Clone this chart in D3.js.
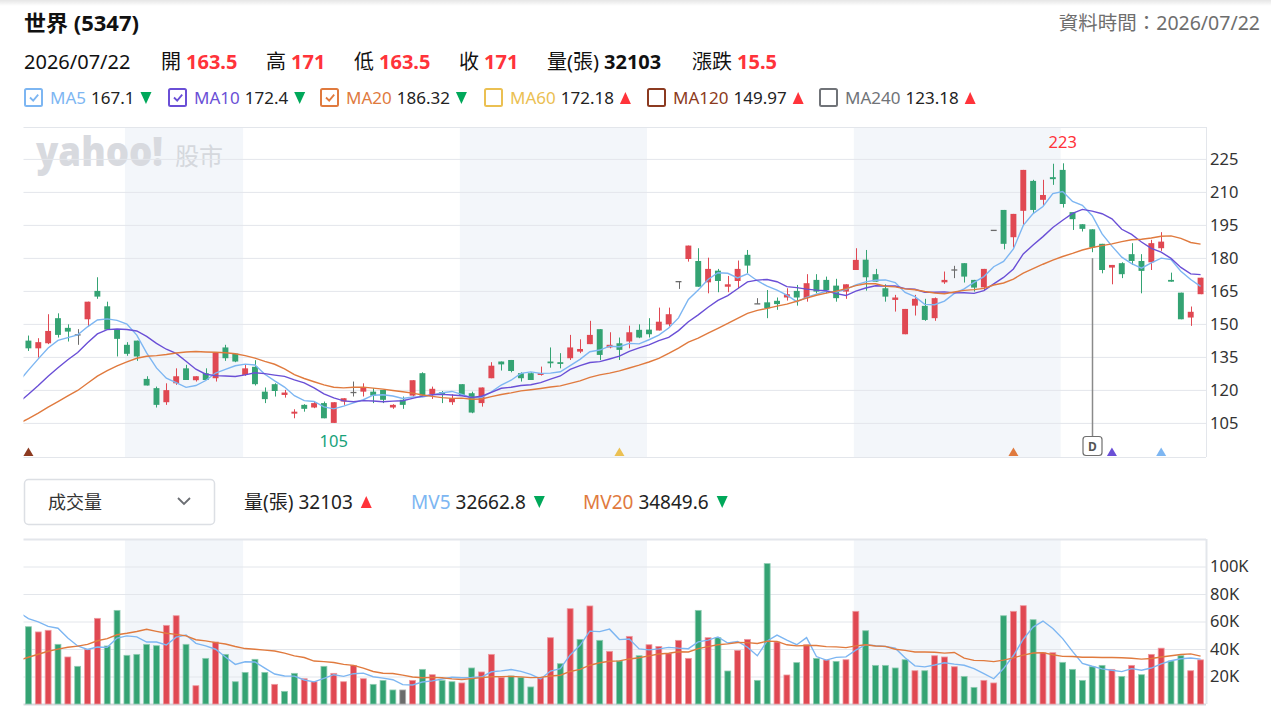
<!DOCTYPE html>
<html>
<head>
<meta charset="utf-8">
<script src="https://cdn.jsdelivr.net/npm/d3@7"></script>
<style>
  body { margin: 0; background: #fff; }
  text { font-family: "Noto Sans", "Noto Sans CJK TC", sans-serif; }
</style>
</head>
<body>
<svg id="chart" width="1271" height="711"></svg>
<script>
// ---- data ----
const stockName = "世界 (5347)";
const lastDate = "2026/07/22";

const opens = [142.4,138.9,141.2,152.6,148.2,145.0,152.1,165.0,158.0,147.4,140.5,142.4,125.0,120.8,114.4,123.0,129.8,124.4,127.6,125.3,
  139.3,136.5,126.8,130.5,119.2,122.6,117.7,109.2,113.2,112.0,114.0,105.0,114.7,118.8,119.2,119.2,120.0,112.0,115.5,117.4,
  127.6,118.0,119.0,114.4,122.6,118.5,114.0,125.3,132.9,133.6,127.6,127.6,126.8,132.9,132.6,134.4,137.4,140.8,147.6,139.3,
  141.2,142.0,147.3,147.4,147.0,149.8,169.2,179.5,178.6,168.9,174.2,166.9,169.5,181.4,159.1,159.8,160.5,162.0,165.0,161.7,
  170.0,170.0,167.4,164.7,174.5,179.2,172.6,166.2,160.9,145.3,158.3,158.2,152.6,168.9,174.5,177.6,170.0,166.6,192.5,201.8,
  189.4,201.4,215.0,206.4,216.7,220.0,200.8,195.3,193.0,186.4,175.6,177.6,181.7,178.6,178.0,184.4,170.0,164.2,152.9,163.5];
const highs = [144.7,143.5,154.4,154.8,149.8,147.6,160.1,171.2,160.1,147.4,141.7,142.4,126.2,121.5,123.0,129.8,131.4,126.2,129.8,136.9,
  140.5,136.5,131.7,133.5,121.1,123.0,120.0,111.2,113.5,114.7,114.7,114.4,116.2,123.8,123.0,120.8,120.0,113.5,117.0,124.4,
  128.0,121.5,119.5,118.0,122.6,119.2,121.1,132.6,132.9,133.6,128.0,128.0,130.6,139.3,136.7,145.0,143.0,151.4,147.6,146.2,
  143.8,149.2,149.8,152.6,157.4,157.4,169.2,185.6,184.4,180.1,175.0,171.8,178.8,183.6,161.7,165.4,162.0,166.2,167.7,172.6,
  172.6,171.5,170.5,168.0,184.4,183.6,175.0,168.0,163.2,156.8,163.2,161.4,162.0,173.8,176.4,177.6,170.0,175.0,192.5,201.8,
  200.0,220.0,215.5,215.5,222.8,223.0,200.8,195.3,193.0,186.4,176.8,178.0,186.7,181.7,188.2,191.7,173.3,164.2,157.9,171.0];
const lows = [137.7,134.7,140.8,143.8,142.0,140.5,148.8,161.4,147.4,135.2,135.5,133.2,122.0,112.0,113.2,122.3,124.5,123.8,124.5,123.8,
  133.2,132.6,126.4,122.0,114.0,117.0,116.5,107.1,110.1,111.7,107.1,105.0,113.2,117.0,117.0,114.0,114.0,111.4,111.4,117.0,
  117.0,115.9,114.0,113.2,117.4,109.4,112.4,125.3,128.8,128.0,123.8,124.5,126.5,130.1,129.8,133.6,136.7,140.8,133.6,138.9,
  133.6,138.9,143.5,143.8,147.0,148.8,165.9,178.3,166.9,163.9,164.4,164.4,166.2,173.0,159.1,152.6,156.4,160.6,158.3,160.1,
  163.9,163.9,160.1,161.4,174.5,165.1,169.2,160.1,155.6,145.3,153.8,151.4,151.4,168.2,170.8,168.8,164.7,165.1,192.5,183.9,
  184.7,195.0,200.3,203.8,213.2,202.9,192.7,192.0,182.6,173.0,168.0,170.8,176.8,163.9,174.5,183.2,169.2,152.1,149.1,163.5];
const closes = [138.9,141.7,146.8,145.0,146.5,145.0,160.1,162.4,147.4,143.2,136.4,135.2,122.0,113.2,119.9,126.2,124.5,126.2,124.5,136.9,
  134.4,132.9,129.8,122.6,115.8,119.5,118.8,110.1,111.4,114.0,107.1,114.4,116.2,118.8,121.1,117.4,115.5,113.2,113.2,124.4,
  117.4,120.5,118.0,116.2,117.7,109.7,121.1,131.0,131.6,128.6,125.3,124.5,127.6,132.1,131.8,139.3,138.6,145.0,135.9,140.5,
  138.2,146.2,143.8,145.3,151.0,154.4,169.2,185.6,166.9,175.0,169.5,168.0,175.0,176.5,159.1,157.1,159.0,163.5,162.0,168.5,
  164.7,165.4,161.7,168.0,179.1,171.2,169.2,162.4,162.0,156.8,161.4,151.8,161.7,170.0,174.5,171.5,166.5,175.0,192.5,186.4,
  200.0,220.0,201.8,208.6,215.8,204.5,197.6,193.2,184.7,174.5,176.8,172.6,178.6,174.1,186.7,187.4,169.2,152.1,155.5,171.0];
const volumes = [56200,52400,53600,43400,34200,27400,39800,62300,42200,68100,35400,36100,43400,42400,57200,64200,43400,13300,33200,45100,
  36100,16200,23000,32500,23000,14300,9200,22300,18400,16200,27400,22300,16200,28100,18400,14300,17200,10200,10200,17200,
  25200,21300,17200,16200,15300,26200,23300,36100,19400,20400,19400,12400,19400,48200,29300,69300,47000,71300,46300,38300,
  31300,49200,35100,43100,41900,36600,46300,33200,68100,48200,48200,24000,39000,47000,17200,102100,45100,21100,30100,43100,
  33200,32000,31000,32200,67400,53300,28100,28100,26200,32200,24200,24200,35100,34200,27100,20100,12100,17200,15300,64200,
  67400,71500,61300,37300,37300,30300,25200,17200,27100,28100,25200,20100,28100,21300,36100,40600,31300,35100,24200,32103];

// closes and volumes of the 20 sessions before the window (feed the averages at the left edge)
const priorCloses = [91,92,93,95,94,96,95,97,98,99,101,102,104,107,110,112,116,122,128,140];
const priorVolumes = [10000,9000,10000,12000,8000,11000,13000,10000,12000,11000,14000,10000,12300,72000,85000,80500,64000,70000,50000,70000];

const priceTicks = [105,120,135,150,165,180,195,210,225];
const volumeTicks = [20000,40000,60000,80000,100000];
const shadedMonths = [[10,22],[44,63],[84,105]];  // alternate months are tinted

const maNames = ["MA5","MA10","MA20","MA60","MA120","MA240"];
const maValues = ["167.1","172.4","186.32","172.18","149.97","123.18"];
const maUp = [false,false,false,true,true,true];
const maShown = [true,true,true,false,false,false];
const maColors = ["#7db6f2","#6a4fd6","#e07a3e","#ebc052","#8c3a20","#707378"];

const mvNames = ["量(張)","MV5","MV20"];
const mvValues = ["32103","32662.8","34849.6"];
const mvUp = [true,false,false];

// cross signals along the bottom of the price panel (index, colour of the average)
const signalIdx = [0,60,100,110,115];
const signalColor = ["#8c3a20","#ebc052","#e07a3e","#6a4fd6","#7db6f2"];
const dividendIdx = 108;

// ---- setup ----
const n = closes.length;
const UP = "#e04852", DOWN = "#34a373", FLAT = "#6b6b6b";
const TXT_UP = "#ff333a", TXT_DOWN = "#00a85a";
const GRID = "#e3e6eb", SHADE = "#f3f6fa";

const svg = d3.select("#chart");
const L = 23.5, R = 1205.5, AX = 1206;
const P = {top: 127, bottom: 457};
const V = {top: 539, bottom: 704};

const x = d3.scaleBand().domain(d3.range(n)).range([L, R]).paddingInner(0.4).paddingOuter(0.2);
const xc = d3.scaleLinear().domain([-0.5, n - 0.5]).range([L, R]);
const y = d3.scaleLinear().domain([89.5, 239.5]).range([P.bottom, P.top]);
const yv = d3.scaleLinear().domain([0, 120000]).range([V.bottom, V.top]);

function candleColor(i) {
  return closes[i] > opens[i] ? UP : closes[i] < opens[i] ? DOWN : FLAT;
}
function volColor(i) {
  const prev = i === 0 ? priorCloses[priorCloses.length - 1] : closes[i - 1];
  return closes[i] > prev ? UP : closes[i] < prev ? DOWN : FLAT;
}
function movingAvg(prior, vals, k) {
  const all = prior.concat(vals), off = prior.length, out = [];
  for (let i = -1; i < vals.length; i++) {
    const end = i + off;
    out.push({i: i, v: d3.mean(all.slice(end - k + 1, end + 1))});
  }
  return out;
}

// top shadow
const defs = svg.append("defs");
const g0 = defs.append("linearGradient").attr("id", "shadow").attr("x1", 0).attr("x2", 0).attr("y1", 0).attr("y2", 1);
g0.append("stop").attr("offset", "0%").attr("stop-color", "#000").attr("stop-opacity", 0.10);
g0.append("stop").attr("offset", "100%").attr("stop-color", "#000").attr("stop-opacity", 0);
svg.append("rect").attr("width", 1271).attr("height", 6).attr("fill", "url(#shadow)");
defs.append("clipPath").attr("id", "plotclip").append("rect")
  .attr("x", L).attr("y", 0).attr("width", R - L).attr("height", 711);

// ---- header ----
svg.append("text").attr("x", 24).attr("y", 31).attr("font-size", 22).attr("font-weight", 700)
  .attr("fill", "#111").text(stockName);
svg.append("text").attr("x", 1260).attr("y", 30).attr("font-size", 19.5).attr("text-anchor", "end")
  .attr("fill", "#6e6e6e").text("資料時間：" + lastDate);

const last = n - 1, prevClose = closes[last - 1];
const cmp = v => v > prevClose ? TXT_UP : v < prevClose ? TXT_DOWN : "#333";
const fmt = v => (Math.round(v * 100) / 100).toString();
const row2 = [
  {lab: lastDate, x: 24},
  {lab: "開", x: 161, val: fmt(opens[last]), col: cmp(opens[last])},
  {lab: "高", x: 266, val: fmt(highs[last]), col: cmp(highs[last])},
  {lab: "低", x: 354, val: fmt(lows[last]), col: cmp(lows[last])},
  {lab: "收", x: 459, val: fmt(closes[last]), col: cmp(closes[last])},
  {lab: "量(張)", x: 547, val: String(volumes[last]), col: "#111"},
  {lab: "漲跌", x: 692, val: fmt(closes[last] - prevClose), col: cmp(closes[last])}
];
row2.forEach(d => {
  const t = svg.append("text").attr("x", d.x).attr("y", 69).attr("font-size", 20).attr("fill", "#111");
  t.append("tspan").text(d.lab);
  if (d.val) t.append("tspan").attr("dx", 5).attr("font-weight", 700).attr("fill", d.col).text(d.val);
});

function arrow(g, x0, yBase, up) {
  const w = 11, h = 12;
  const pts = up ? [[x0, yBase], [x0 + w, yBase], [x0 + w / 2, yBase - h]]
                 : [[x0, yBase - h], [x0 + w, yBase - h], [x0 + w / 2, yBase]];
  g.append("polygon").attr("points", pts.map(p => p.join(",")).join(" "))
    .attr("fill", up ? TXT_UP : TXT_DOWN);
}

// MA legend
const legendX = [24, 168, 320, 484, 647, 819];
maNames.forEach((name, k) => {
  const g = svg.append("g");
  const bx = legendX[k];
  g.append("rect").attr("x", bx + 1).attr("y", 89).attr("width", 17).attr("height", 17).attr("rx", 1.5)
    .attr("fill", "#fff").attr("stroke", maColors[k]).attr("stroke-width", 2);
  if (maShown[k]) {
    g.append("path").attr("d", `M${bx + 6},${97.5} l3.2,3.2 l5,-6`).attr("fill", "none")
      .attr("stroke", maColors[k]).attr("stroke-width", 1.8);
  }
  const lab = g.append("text").attr("x", bx + 26).attr("y", 104).attr("font-size", 17)
    .attr("fill", maColors[k]).text(name);
  const lw = lab.node().getComputedTextLength();
  const val = g.append("text").attr("x", bx + 26 + lw + 5).attr("y", 104).attr("font-size", 17)
    .attr("fill", "#222").text(maValues[k]);
  const vw = val.node().getComputedTextLength();
  arrow(g, bx + 26 + lw + 5 + vw + 6, 104, maUp[k]);
});

// ---- price panel ----
const pg = svg.append("g");
shadedMonths.forEach(m => {
  [[P.top, P.bottom], [V.top, V.bottom]].forEach(([t, b]) => {
    pg.append("rect").attr("x", xc(m[0]) - 2).attr("y", t).attr("width", xc(m[1]) - xc(m[0]))
      .attr("height", b - t).attr("fill", SHADE);
  });
});

// watermark
svg.append("text").attr("x", 36).attr("y", 166).attr("font-size", 40).attr("font-weight", 900)
  .attr("font-family", "Lato, 'Noto Sans', sans-serif")
  .attr("textLength", 127).attr("lengthAdjust", "spacingAndGlyphs")
  .attr("fill", "#d8dadf").text("yahoo!");
svg.append("text").attr("x", 175).attr("y", 165).attr("font-size", 24)
  .attr("fill", "#d5d8dd").text("股市");

const yAxis = d3.axisRight(y).tickValues(priceTicks).tickSize(-(AX - L)).tickPadding(4);
svg.append("g").attr("transform", `translate(${AX},0)`).call(yAxis)
  .call(g => g.select(".domain").remove())
  .call(g => g.selectAll("line").attr("stroke", GRID))
  .call(g => g.selectAll("text").attr("font-size", 16.5).attr("fill", "#333")
    .attr("font-family", "'Noto Sans', sans-serif"));

[P.top, P.bottom].forEach(v => svg.append("line").attr("x1", L).attr("x2", AX)
  .attr("y1", v + 0.5).attr("y2", v + 0.5).attr("stroke", GRID));
svg.append("line").attr("x1", AX + 0.5).attr("x2", AX + 0.5).attr("y1", P.top).attr("y2", P.bottom).attr("stroke", GRID);

// candles
const cg = svg.append("g");
const bw = x.bandwidth();
d3.range(n).forEach(i => {
  const col = candleColor(i), cx = Math.round(xc(i)) + 0.5;
  cg.append("line").attr("x1", cx).attr("x2", cx).attr("y1", y(highs[i])).attr("y2", y(lows[i]))
    .attr("stroke", col).attr("stroke-width", 1);
  const top = y(Math.max(opens[i], closes[i])), bot = y(Math.min(opens[i], closes[i]));
  if (bot - top < 1.2) {
    cg.append("line").attr("x1", x(i)).attr("x2", x(i) + bw).attr("y1", top).attr("y2", top)
      .attr("stroke", col).attr("stroke-width", 1.3);
  } else {
    cg.append("rect").attr("x", x(i)).attr("y", top).attr("width", bw).attr("height", bot - top)
      .attr("fill", col);
  }
});

// moving averages
const lineP = d3.line().x(d => xc(d.i)).y(d => y(d.v));
const maSeries = [movingAvg(priorCloses, closes, 5), movingAvg(priorCloses, closes, 10), movingAvg(priorCloses, closes, 20)];
maSeries.forEach((s, k) => {
  svg.append("path").datum(s).attr("d", lineP).attr("fill", "none").attr("clip-path", "url(#plotclip)")
    .attr("stroke", maColors[k]).attr("stroke-width", 1.4);
});

// high / low labels
const hiIdx = d3.greatestIndex(d3.range(n), (a, b) => highs[a] - highs[b] || a - b);
const loIdx = d3.leastIndex(d3.range(n), (a, b) => lows[a] - lows[b]);
svg.append("text").attr("x", xc(hiIdx)).attr("y", y(highs[hiIdx]) - 15).attr("text-anchor", "middle")
  .attr("font-size", 16.5).attr("fill", TXT_UP).text(highs[hiIdx]);
svg.append("text").attr("x", xc(loIdx)).attr("y", y(lows[loIdx]) + 24).attr("text-anchor", "middle")
  .attr("font-size", 16.5).attr("fill", "#17a27a").text(lows[loIdx]);

// signals
signalIdx.forEach((i, k) => {
  const cx = xc(i);
  svg.append("polygon").attr("points", `${cx - 5},456 ${cx + 5},456 ${cx},447.5`).attr("fill", signalColor[k]);
});
// dividend marker
{
  const cx = Math.round(xc(dividendIdx)) + 0.5;
  svg.append("line").attr("x1", cx).attr("x2", cx).attr("y1", y(lows[dividendIdx]) + 6).attr("y2", 436)
    .attr("stroke", "#8a8a8a").attr("stroke-width", 1.5);
  svg.append("rect").attr("x", cx - 9.5).attr("y", 436.5).attr("width", 19).attr("height", 19).attr("rx", 3)
    .attr("fill", "#fff").attr("stroke", "#6f6f6f").attr("stroke-width", 1.2);
  svg.append("text").attr("x", cx).attr("y", 451).attr("text-anchor", "middle").attr("font-size", 12)
    .attr("font-weight", 700).attr("fill", "#555").text("D");
}

// ---- volume header ----
svg.append("rect").attr("x", 24.5).attr("y", 479.5).attr("width", 190).attr("height", 45).attr("rx", 4)
  .attr("fill", "#fff").attr("stroke", "#dcdfe4").attr("stroke-width", 1.5);
svg.append("text").attr("x", 48).attr("y", 509).attr("font-size", 18).attr("fill", "#333").text("成交量");
svg.append("polyline").attr("points", "178,498 184,504 190,498").attr("fill", "none")
  .attr("stroke", "#6b6e73").attr("stroke-width", 1.8);

const mvX = [244, 411, 583];
const mvCol = ["#222", "#7db6f2", "#e07a3e"];
mvNames.forEach((name, k) => {
  const lab = svg.append("text").attr("x", mvX[k]).attr("y", 509).attr("font-size", 19)
    .attr("fill", mvCol[k]).text(name);
  const lw = lab.node().getComputedTextLength();
  const val = svg.append("text").attr("x", mvX[k] + lw + 5).attr("y", 509).attr("font-size", 19)
    .attr("fill", "#222").text(mvValues[k]);
  const vw = val.node().getComputedTextLength();
  arrow(svg, mvX[k] + lw + 5 + vw + 8, 508, mvUp[k]);
});

// ---- volume panel ----
const vAxis = d3.axisRight(yv).tickValues(volumeTicks).tickSize(-(AX - L)).tickPadding(4)
  .tickFormat(v => (v / 1000) + "K");
svg.append("g").attr("transform", `translate(${AX},0)`).call(vAxis)
  .call(g => g.select(".domain").remove())
  .call(g => g.selectAll("line").attr("stroke", GRID))
  .call(g => g.selectAll("text").attr("font-size", 16.5).attr("fill", "#333")
    .attr("font-family", "'Noto Sans', sans-serif"));
svg.append("line").attr("x1", L).attr("x2", AX).attr("y1", V.top + 0.5).attr("y2", V.top + 0.5).attr("stroke", GRID).attr("stroke-width", 2);
svg.append("line").attr("x1", L).attr("x2", AX).attr("y1", V.bottom + 0.5).attr("y2", V.bottom + 0.5).attr("stroke", "#d5d8dd").attr("stroke-width", 2);
svg.append("line").attr("x1", AX + 0.5).attr("x2", AX + 0.5).attr("y1", V.top).attr("y2", V.bottom).attr("stroke", GRID).attr("stroke-width", 2);

svg.append("g").selectAll("rect").data(d3.range(n)).join("rect")
  .attr("x", i => x(i)).attr("y", i => yv(volumes[i]))
  .attr("width", bw).attr("height", i => yv(0) - yv(volumes[i]))
  .attr("fill", i => volColor(i))
  .attr("stroke", i => d3.interpolateRgb(volColor(i), "#fff")(0.45)).attr("stroke-width", 0.8);

const lineV = d3.line().x(d => xc(d.i)).y(d => yv(d.v));
[[5, "#7db6f2"], [20, "#e07a3e"]].forEach(([k, col]) => {
  svg.append("path").datum(movingAvg(priorVolumes, volumes, k)).attr("d", lineV)
    .attr("fill", "none").attr("clip-path", "url(#plotclip)").attr("stroke", col).attr("stroke-width", 1.4);
});
</script>
</body>
</html>
